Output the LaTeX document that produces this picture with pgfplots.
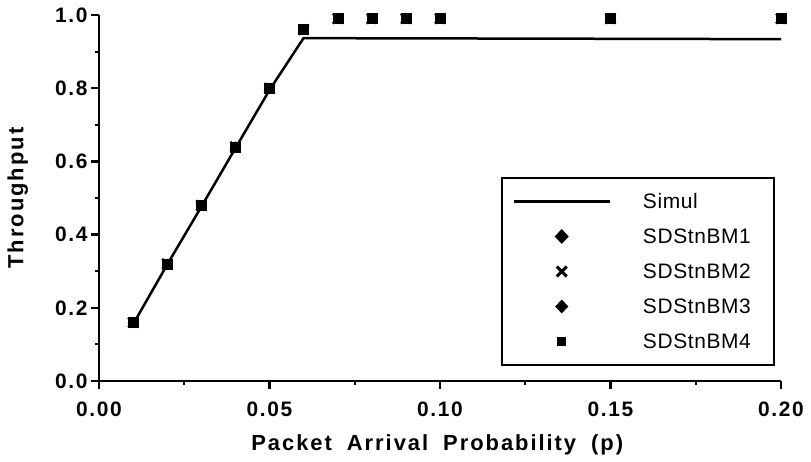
\documentclass[border=0pt]{standalone}
\usepackage{fontspec}
\setmainfont{Liberation Sans}
\newfontfamily\tickfont[LetterSpace=8]{Liberation Sans}
\newfontfamily\labfont[LetterSpace=9]{Liberation Sans}
\newfontfamily\legfont[LetterSpace=3]{Liberation Sans}
\usepackage{pgfplots}
\pgfplotsset{compat=1.18}

% legend samples: a long line, or a single centred mark
\pgfplotsset{
  lineleg/.style={legend image code/.code={\draw[##1] (0bp,0bp) -- (96bp,0bp);}},
  markleg/.style={legend image code/.code={\draw[##1] plot coordinates {(48bp,0bp)};}},
}

% simulated throughput
\pgfplotstableread{
p     thr
0.01  0.155
0.02  0.318
0.03  0.476
0.04  0.636
0.05  0.795
0.06  0.937
0.07  0.937
0.08  0.936
0.10  0.936
0.15  0.935
0.20  0.934
}\simul
% analytical models (all four coincide)
\pgfplotstableread{
p     thr
0.01  0.16
0.02  0.32
0.03  0.48
0.04  0.64
0.05  0.80
0.06  0.96
0.07  0.99
0.08  0.99
0.09  0.99
0.10  0.99
0.15  0.99
0.20  0.99
}\model

\begin{document}
\begin{tikzpicture}
\begin{axis}[
  scale only axis, width=682bp, height=366bp,
  xmin=0, xmax=0.2, ymin=0, ymax=1,
  axis lines*=left,
  axis line style={line width=2.5bp},
  xtick={0,0.05,0.1,0.15,0.2},
  ytick={0,0.2,0.4,0.6,0.8,1},
  minor x tick num=1, minor y tick num=1,
  tick align=outside,
  major tick length=8bp, minor tick length=4bp,
  every major tick/.append style={black, line width=2.5bp},
  every minor tick/.append style={black, line width=2bp},
  /pgf/number format/assume math mode=true,
  tick label style={font=\tickfont\bfseries\fontsize{21}{21}\selectfont},
  x tick label style={yshift=-9bp, /pgf/number format/fixed, /pgf/number format/fixed zerofill, /pgf/number format/precision=2},
  y tick label style={/pgf/number format/fixed, /pgf/number format/fixed zerofill, /pgf/number format/precision=1},
  xlabel={Packet\hspace{15bp}Arrival\hspace{15bp}Probability\hspace{15bp}(p)},
  ylabel={Throughput},
  label style={font=\labfont\bfseries\fontsize{22}{22}\selectfont},
  xlabel style={at={(axis description cs:0.496,-0.1745)}, anchor=center},
  ylabel style={at={(axis description cs:-0.119,0.5)}, anchor=center},
  legend style={at={(rel axis cs:0.9912,0.5574)}, anchor=north east,
    draw=black, line width=2bp, inner xsep=10bp, inner ysep=16bp,
    row sep=20bp, font=\legfont\fontsize{21}{21}\selectfont,
    cells={anchor=west},
    nodes={inner sep=0bp, text width=121bp, text height=15bp, text depth=0bp},
    /tikz/every odd column/.append style={column sep=32bp}},
]
\addplot[black, line width=2.5bp, sharp plot, lineleg]
  table[x=p, y=thr] {\simul};
\addlegendentry{Simul}
\addplot[black, only marks, mark=diamond*, mark size=5bp, markleg,
  legend image post style={mark size=6bp, mark options={xscale=1.25}}]
  table[x=p, y=thr] {\model};
\addlegendentry{SDStnBM1}
\addplot[black, only marks, mark=x, mark size=7bp, line width=2.5bp, markleg,
  legend image post style={mark size=7bp, line width=3bp}]
  table[x=p, y=thr] {\model};
\addlegendentry{SDStnBM2}
\addplot[black, only marks, mark=diamond*, mark size=4.5bp, markleg,
  legend image post style={mark size=5.5bp, mark options={xscale=1.25}}]
  table[x=p, y=thr] {\model};
\addlegendentry{SDStnBM3}
\addplot[black, only marks, mark=square*, mark size=5bp, markleg,
  legend image post style={mark size=3.5bp}]
  table[x=p, y=thr] {\model};
\addlegendentry{SDStnBM4}
\end{axis}
\pgfresetboundingbox
\path ([shift={(-99bp,-81bp)}]current axis.south west) rectangle ([shift={(30bp,15bp)}]current axis.north east);
\end{tikzpicture}
\end{document}
